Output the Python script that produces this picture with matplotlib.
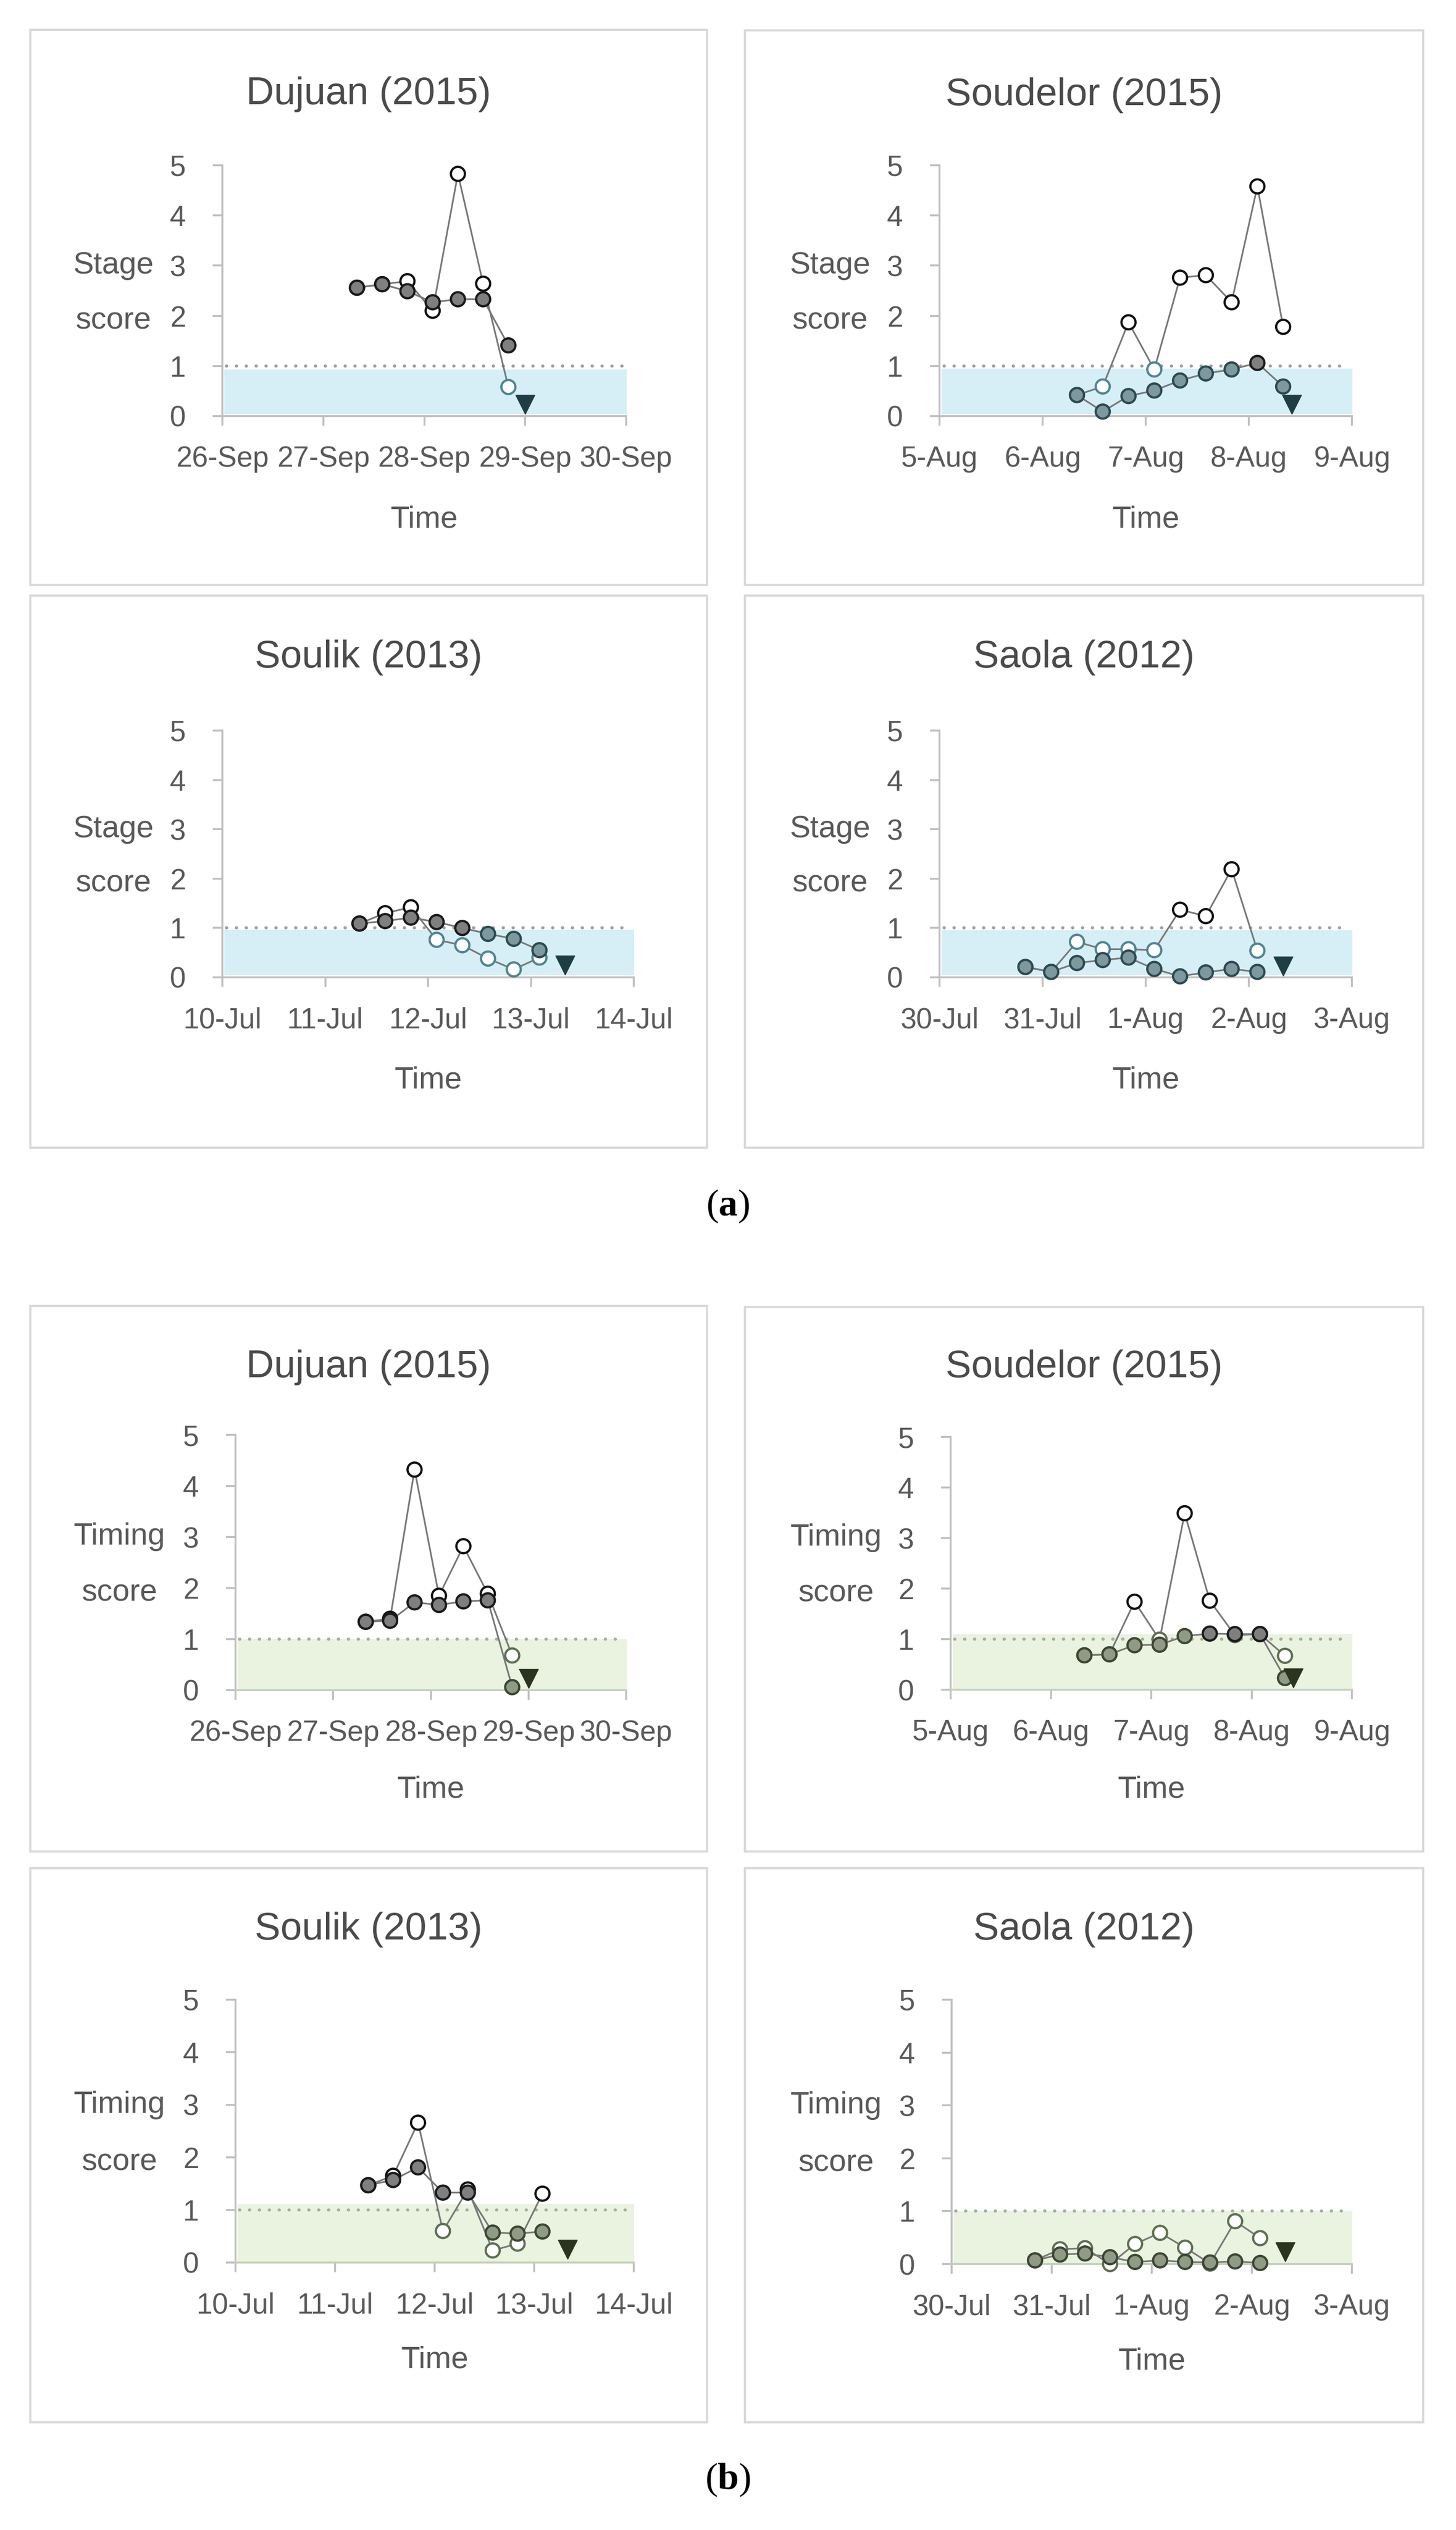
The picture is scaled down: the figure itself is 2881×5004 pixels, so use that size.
import matplotlib
matplotlib.use('Agg')
import matplotlib.pyplot as plt
import pandas as pd
from matplotlib.patches import Rectangle
from matplotlib.transforms import blended_transform_factory

plt.rcParams['font.family'] = ['Liberation Sans', 'DejaVu Sans']
plt.rcParams['mathtext.fontset'] = 'custom'
plt.rcParams['mathtext.rm'] = 'Liberation Serif'
plt.rcParams['mathtext.bf'] = 'Liberation Serif:bold'

# ------------------------------------------------------------------ data
storms = ['Dujuan (2015)', 'Soudelor (2015)', 'Soulik (2013)', 'Saola (2012)']

axis_start = ['2015-09-26', '2015-08-05', '2013-07-10', '2012-07-30']
tick_labels = [
    ['26-Sep', '27-Sep', '28-Sep', '29-Sep', '30-Sep'],
    ['5-Aug', '6-Aug', '7-Aug', '8-Aug', '9-Aug'],
    ['10-Jul', '11-Jul', '12-Jul', '13-Jul', '14-Jul'],
    ['30-Jul', '31-Jul', '1-Aug', '2-Aug', '3-Aug'],
]

times_dujuan = ['2015-09-27 08:00', '2015-09-27 14:00', '2015-09-27 20:00',
                '2015-09-28 02:00', '2015-09-28 08:00', '2015-09-28 14:00',
                '2015-09-28 20:00']
times_soudelor = ['2015-08-06 08:00', '2015-08-06 14:00', '2015-08-06 20:00',
                  '2015-08-07 02:00', '2015-08-07 08:00', '2015-08-07 14:00',
                  '2015-08-07 20:00', '2015-08-08 02:00', '2015-08-08 08:00']
times_soulik = ['2013-07-11 08:00', '2013-07-11 14:00', '2013-07-11 20:00',
                '2013-07-12 02:00', '2013-07-12 08:00', '2013-07-12 14:00',
                '2013-07-12 20:00', '2013-07-13 02:00']
times_saola = ['2012-07-30 20:00', '2012-07-31 02:00', '2012-07-31 08:00',
               '2012-07-31 14:00', '2012-07-31 20:00', '2012-08-01 02:00',
               '2012-08-01 08:00', '2012-08-01 14:00', '2012-08-01 20:00',
               '2012-08-02 02:00']

landfall_time = ['2015-09-29 00:00', '2015-08-08 10:00', '2013-07-13 08:00', '2012-08-02 08:00']
landfall_y = [0.23, 0.23, 0.25, 0.23]

# (a) stage score
stage_filled_dujuan = [2.56, 2.63, 2.49, 2.27, 2.33, 2.33, 1.41]
stage_open_dujuan = [2.56, 2.63, 2.69, 2.10, 4.83, 2.64, 0.58]
stage_filled_soudelor = [0.42, 0.09, 0.40, 0.51, 0.71, 0.85, 0.93, 1.06, 0.59]
stage_open_soudelor = [0.42, 0.59, 1.87, 0.93, 2.76, 2.81, 2.27, 4.58, 1.78]
stage_filled_soulik = [1.09, 1.14, 1.21, 1.12, 1.00, 0.88, 0.78, 0.55]
stage_open_soulik = [1.09, 1.30, 1.42, 0.76, 0.65, 0.38, 0.16, 0.40]
stage_filled_saola = [0.21, 0.11, 0.29, 0.35, 0.40, 0.17, 0.02, 0.10, 0.17, 0.11]
stage_open_saola = [0.21, 0.11, 0.72, 0.57, 0.57, 0.55, 1.37, 1.24, 2.19, 0.54]

# (b) timing score
timing_filled_dujuan = [1.34, 1.36, 1.72, 1.67, 1.74, 1.76, 0.06]
timing_open_dujuan = [1.34, 1.40, 4.32, 1.85, 2.82, 1.89, 0.68]
timing_filled_soudelor = [0.68, 0.70, 0.88, 0.89, 1.06, 1.11, 1.10, 1.10, 0.23]
timing_open_soudelor = [0.68, 0.70, 1.74, 0.99, 3.49, 1.76, 1.08, 1.10, 0.67]
timing_filled_soulik = [1.47, 1.57, 1.81, 1.33, 1.33, 0.57, 0.55, 0.59]
timing_open_soulik = [1.47, 1.65, 2.66, 0.60, 1.39, 0.23, 0.36, 1.31]
timing_filled_saola = [0.07, 0.18, 0.20, 0.13, 0.04, 0.07, 0.04, 0.03, 0.05, 0.02]
timing_open_saola = [0.07, 0.28, 0.30, 0.00, 0.38, 0.59, 0.31, 0.01, 0.81, 0.49]

stage_band_top = [0.93, 0.95, 0.96, 0.95]
timing_band_top = [1.00, 1.10, 1.12, 1.00]
threshold = 1.0

# ------------------------------------------------------------------ layout (pixels)
W, H = 2881, 5004
fig = plt.figure(figsize=(W / 100, H / 100), dpi=100)
fig.patch.set_facecolor('white')

frames = [
    (60, 59, 1399, 1157), (1474, 60, 2816, 1157),
    (60, 1178, 1399, 2270), (1474, 1178, 2816, 2270),
    (60, 2583, 1399, 3662), (1474, 2585, 2816, 3662),
    (60, 3695, 1399, 4791), (1474, 3695, 2816, 4791),
]
axes_px = [
    (440, 1239, 327, 823), (1859, 2675, 327, 823),
    (440, 1254, 1445, 1933), (1859, 2675, 1445, 1933),
    (466, 1239, 2838, 3343), (1881, 2675, 2842, 3342),
    (466, 1254, 3955, 4475), (1883, 2675, 3955, 4478),
]
title_y = [186, 188, 1301, 1301, 2704, 2704, 3817, 3817]
time_y = [1028, 1028, 2137, 2137, 3540, 3540, 4668, 4671]
ylab_x = [224, 1642, 224, 1642, 236, 1654, 236, 1654]

times_all = [times_dujuan, times_soudelor, times_soulik, times_saola]
stage_f = [stage_filled_dujuan, stage_filled_soudelor, stage_filled_soulik, stage_filled_saola]
stage_o = [stage_open_dujuan, stage_open_soudelor, stage_open_soulik, stage_open_saola]
timing_f = [timing_filled_dujuan, timing_filled_soudelor, timing_filled_soulik, timing_filled_saola]
timing_o = [timing_open_dujuan, timing_open_soudelor, timing_open_soulik, timing_open_saola]

styles = {
    'a': dict(band='#d6eef6', dot='#a0a0a0', tri='#1f3d44', xaxis='#bfbfbf',
              f_lo='#7d989e', f_lo_e='#2c4a50', o_lo_e='#4f8591',
              ylabel=('Stage', 'score'), band_bottom=0.04),
    'b': dict(band='#e9f3e0', dot='#a3b197', tri='#2a3520', xaxis='#c3d0b8',
              f_lo='#8f9b85', f_lo_e='#3b4733', o_lo_e='#5f6f52',
              ylabel=('Timing', 'score'), band_bottom=0.0),
}
f_hi, f_hi_e, o_hi_e = '#7f7f7f', '#1a1a1a', '#111111'
txt = '#595959'
axis_col = '#bfbfbf'


def fx(px):
    return px / W


def fy(py):
    return 1 - py / H


for k, (x0, y0, x1, y1) in enumerate(frames):
    fig.add_artist(Rectangle((fx(x0), fy(y1)), fx(x1 - x0), (y1 - y0) / H,
                             transform=fig.transFigure, fill=False,
                             ec='#d9d9d9', lw=3.2, zorder=0))

for k in range(8):
    part = 'a' if k < 4 else 'b'
    st = styles[part]
    i = k % 4
    left, right, top, bot = axes_px[k]
    ax = fig.add_axes([fx(left), fy(bot), fx(right - left), (bot - top) / H])
    ax.set_facecolor('none')

    start = pd.Timestamp(axis_start[i])
    ticks = [start + pd.Timedelta(days=d) for d in range(5)]
    t = pd.to_datetime(times_all[i])
    if part == 'a':
        yf, yo, btop = stage_f[i], stage_o[i], stage_band_top[i]
    else:
        yf, yo, btop = timing_f[i], timing_o[i], timing_band_top[i]
    thr = max(threshold, btop) if part == 'b' else threshold

    ax.fill_between([ticks[0] + pd.Timedelta(minutes=30), ticks[4] + pd.Timedelta(hours=1)],
                    st['band_bottom'], btop, color=st['band'], lw=0, zorder=0)
    ax.plot([ticks[0] + pd.Timedelta(hours=1), ticks[4] - pd.Timedelta(hours=1)], [1, 1],
            color=st['dot'], lw=4.4, linestyle=(0, (0.1, 3.1)),
            dash_capstyle='round', zorder=1)

    ax.plot(t, yo, color='#787878', lw=2.4, zorder=2, clip_on=False)
    ax.plot(t, yf, color='#787878', lw=2.4, zorder=2, clip_on=False)

    o_ec = [o_hi_e if v >= thr else st['o_lo_e'] for v in yo]
    f_fc = [f_hi if v >= thr else st['f_lo'] for v in yf]
    f_ec = [f_hi_e if v >= thr else st['f_lo_e'] for v in yf]
    ax.scatter(t, yo, s=400, facecolors='white', edgecolors=o_ec,
               linewidths=3.2, zorder=3, clip_on=False)
    ax.scatter(t, yf, s=400, facecolors=f_fc, edgecolors=f_ec,
               linewidths=3.2, zorder=4, clip_on=False)
    ax.plot([pd.Timestamp(landfall_time[i])], [landfall_y[i]], marker='v',
            ms=28, color=st['tri'], mec=st['tri'], ls='none', zorder=5, clip_on=False)

    ax.set_xlim(ticks[0], ticks[4])
    ax.set_ylim(0, 5)
    ax.set_xticks(ticks)
    ax.set_xticklabels(tick_labels[i])
    ax.set_yticks(range(6))
    for s in ('top', 'right'):
        ax.spines[s].set_visible(False)
    ax.spines['left'].set_color(axis_col)
    ax.spines['bottom'].set_color(st['xaxis'])
    for s in ('left', 'bottom'):
        ax.spines[s].set_linewidth(2.7)
    ax.tick_params(axis='both', color=axis_col, width=2.7, length=14,
                   labelsize=41, labelcolor=txt, direction='out')
    ax.tick_params(axis='y', pad=38)
    ax.tick_params(axis='x', pad=28)

    cx = (frames[k][0] + frames[k][2]) / 2
    fig.text(fx(cx), fy(title_y[k]), storms[i], ha='center', va='center',
             fontsize=55, color='#4a4a4a')
    fig.text(fx((left + right) / 2), fy(time_y[k]), 'Time', ha='center', va='center',
             fontsize=44, color=txt)
    tr = blended_transform_factory(fig.transFigure, ax.transData)
    ax.text(fx(ylab_x[k]), 3.0, st['ylabel'][0], transform=tr, ha='center', va='center',
            fontsize=44, color=txt)
    ax.text(fx(ylab_x[k]), 1.9, st['ylabel'][1], transform=tr, ha='center', va='center',
            fontsize=44, color=txt)

fig.text(0.5, fy(2386), r'($\mathbf{a}$)', ha='center', va='center', fontsize=54,
         family='Liberation Serif', color='black')
fig.text(0.5, fy(4905), r'($\mathbf{b}$)', ha='center', va='center', fontsize=54,
         family='Liberation Serif', color='black')

fig.savefig('out.png', dpi=100, facecolor='white')
